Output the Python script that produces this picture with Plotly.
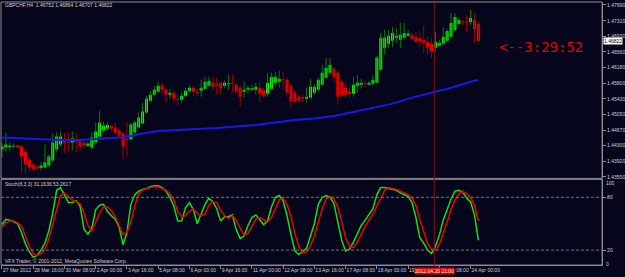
import plotly.graph_objects as go

# ---------------- data ----------------
opens = [1.44210,1.44258,1.44270,1.44282,1.44306,1.44282,1.44162,1.43970,1.43850,1.43802,
         1.43766,1.43778,1.43826,1.43946,1.44210,1.44330,1.44402,1.44390,1.44378,1.44426,
         1.44402,1.44378,1.44294,1.44258,1.44378,1.44522,1.44666,1.44714,1.44774,1.44738,
         1.44666,1.44594,1.44462,1.44450,1.44618,1.44738,1.44834,1.45098,1.45386,1.45530,
         1.45602,1.45746,1.45650,1.45530,1.45578,1.45434,1.45410,1.45506,1.45626,1.45698,
         1.45602,1.45626,1.45674,1.45746,1.45818,1.45794,1.45818,1.45746,1.45782,1.45806,
         1.45770,1.45698,1.45602,1.45650,1.45650,1.45650,1.45698,1.45650,1.45554,1.45674,
         1.45818,1.45842,1.45902,1.45890,1.45746,1.45578,1.45482,1.45470,1.45434,1.45458,
         1.45578,1.45650,1.45770,1.45938,1.46058,1.46154,1.46058,1.45842,1.45698,1.45602,
         1.45554,1.45746,1.45770,1.45806,1.45770,1.45794,1.45818,1.46130,1.46658,1.46754,
         1.46826,1.46898,1.46850,1.46898,1.46946,1.46970,1.46922,1.46898,1.46850,1.46802,
         1.46754,1.46658,1.46706,1.46754,1.46826,1.46922,1.47090,1.47234,1.47294,1.47282,
         1.47282,1.47330,1.47234]
highs = [1.44378,1.44618,1.44378,1.44354,1.44330,1.44306,1.44210,1.44018,1.43898,1.43826,
         1.43898,1.44330,1.44090,1.44594,1.44618,1.44642,1.44618,1.44618,1.44642,1.44618,
         1.44450,1.44426,1.44402,1.44618,1.44858,1.45146,1.44882,1.44858,1.44810,1.44858,
         1.44714,1.44642,1.44882,1.44858,1.44906,1.45098,1.45338,1.45506,1.45626,1.45746,
         1.45842,1.45818,1.45698,1.45674,1.45650,1.45530,1.45578,1.45698,1.45770,1.45746,
         1.45674,1.45890,1.45962,1.45962,1.45962,1.45962,1.45842,1.45866,1.46010,1.46010,
         1.45818,1.45746,1.45842,1.45746,1.45770,1.45818,1.45842,1.45698,1.46058,1.46058,
         1.46082,1.46106,1.46082,1.45938,1.45794,1.45650,1.45530,1.45530,1.45698,1.45914,
         1.45770,1.45938,1.46250,1.46418,1.46418,1.46202,1.46106,1.45890,1.45818,1.45698,
         1.45962,1.46010,1.45914,1.45890,1.45866,1.46010,1.46466,1.47018,1.47090,1.47090,
         1.47162,1.47138,1.47258,1.47258,1.47090,1.47018,1.47042,1.47042,1.47186,1.46922,
         1.46898,1.47042,1.46850,1.47162,1.47114,1.47498,1.47498,1.47378,1.47330,1.47450,
         1.47570,1.47498,1.47282]
lows = [1.44018,1.44162,1.44162,1.44234,1.44234,1.43658,1.43610,1.43658,1.43682,1.43706,
        1.43706,1.43754,1.43778,1.43898,1.44138,1.44282,1.44138,1.44162,1.44186,1.44138,
        1.44162,1.44234,1.44258,1.44210,1.44330,1.44474,1.44618,1.44666,1.44666,1.44570,
        1.44498,1.43970,1.44042,1.44426,1.44594,1.44714,1.44810,1.45074,1.45338,1.45482,
        1.45554,1.45530,1.45338,1.45434,1.45338,1.45266,1.45338,1.45458,1.45578,1.45506,
        1.45482,1.45482,1.45650,1.45722,1.45650,1.45530,1.45530,1.45698,1.45650,1.45578,
        1.45554,1.45242,1.45458,1.45554,1.45602,1.45530,1.45338,1.45458,1.45482,1.45650,
        1.45722,1.45698,1.45650,1.45482,1.45242,1.45338,1.45338,1.45362,1.45338,1.45434,
        1.45530,1.45602,1.45746,1.45914,1.46010,1.45842,1.45290,1.45458,1.45458,1.45458,
        1.45482,1.45578,1.45674,1.45698,1.45746,1.45770,1.45794,1.46082,1.46490,1.46658,
        1.46682,1.46778,1.46658,1.46850,1.46922,1.46850,1.46778,1.46682,1.46538,1.46490,
        1.46418,1.46562,1.46682,1.46730,1.46802,1.46898,1.47042,1.47210,1.47210,1.47042,
        1.47210,1.46778,1.46802]
closes = [1.44282,1.44330,1.44306,1.44294,1.44270,1.44042,1.43850,1.43778,1.43730,1.43754,
          1.43826,1.43898,1.44042,1.44378,1.44522,1.44522,1.44354,1.44366,1.44474,1.44390,
          1.44282,1.44306,1.44354,1.44498,1.44642,1.44858,1.44786,1.44798,1.44714,1.44618,
          1.44546,1.44282,1.44438,1.44810,1.44858,1.44978,1.45122,1.45434,1.45530,1.45650,
          1.45746,1.45650,1.45530,1.45578,1.45434,1.45410,1.45506,1.45626,1.45698,1.45602,
          1.45578,1.45698,1.45842,1.45866,1.45722,1.45746,1.45698,1.45818,1.45794,1.45782,
          1.45602,1.45482,1.45650,1.45698,1.45686,1.45722,1.45554,1.45506,1.45818,1.45962,
          1.45962,1.45914,1.45878,1.45578,1.45362,1.45362,1.45386,1.45434,1.45482,1.45722,
          1.45722,1.45890,1.46058,1.46178,1.46250,1.45962,1.45482,1.45506,1.45530,1.45554,
          1.45770,1.45818,1.45818,1.45782,1.45818,1.45890,1.46418,1.46898,1.46898,1.46946,
          1.47018,1.46946,1.46970,1.47018,1.47006,1.46874,1.46802,1.46802,1.46778,1.46658,
          1.46562,1.46802,1.46778,1.46922,1.47066,1.47258,1.47402,1.47330,1.47270,1.47258,
          1.47378,1.47114,1.46822]

ma_idx = [0,5,10,15,20,25,30,33,36,40,45,50,55,60,65,70,75,80,85,90,95,100,105,110,115,120,122]
ma_val = [1.44498,1.44474,1.44450,1.44438,1.44438,1.44462,1.44498,1.44534,1.44594,1.44654,
          1.44678,1.44690,1.44726,1.44762,1.44798,1.44858,1.44918,1.44954,1.45014,1.45110,
          1.45218,1.45314,1.45458,1.45578,1.45698,1.45842,1.45890]

stoch_k = [49,55,54,52,50,40,27,18,12,14, 20,28,42,62,88,91,82,74,74,76,
           70,44,38,45,66,71,72,64,59,55, 46,26,40,72,83,87,89,90,92,93,
           93,91,87,80,70,53,53,68,74,66, 50,
           62,72,79,75,67,53,58,58,60,43, 33,36,48,57,60,54,49,53,69,80,
           82,76,59,38,19,15,18,22,36,50, 72,80,82,80,73,53,31,19,21,29,
           38,48,54,61,67,83,91,91,90,89, 88,85,83,81,74,57,34,28,20,16,
           24,37,54,66,78,87,88,86,79,75, 60,31]
stoch_d = [46,51,53,53,51,47,36,24,16,14, 16,21,33,48,66,82,85,81,77,75,
           73,62,48,42,52,62,69,69,65,58, 48,38,40,52,70,84,88,90,91,92,
           92,90,88,84,77,64,58,59,64,67, 62,
           59,61,71,75,74,65,59,56,59,54, 45,37,39,47,55,57,54,52,57,67,
           77,79,72,58,39,24,17,18,25,36, 53,67,78,81,78,69,52,34,24,23,
           29,38,47,54,61,70,80,88,91,90, 89,87,85,83,79,71,55,40,27,21,
           20,26,38,52,66,77,84,87,84,80, 71,53]

price_ticks = [1.4769,1.4731,1.4693,1.4656,1.4618,1.4580,1.4543,1.4505,1.4467,1.4430,1.4392,1.4355]
price_tick_text = ["1.47690","1.47310","1.46930","1.46560","1.46180","1.45800",
                   "1.45430","1.45050","1.44670","1.44300","1.43920","1.43550"]
stoch_levels = [80, 20]
stoch_level_text = ["80", "20"]
time_tick_idx = [0,8,16,24,32,40,48,56,64,72,80,88,96,104,112,120]
time_tick_text = ["27 Mar 2012","28 Mar 16:00","30 Mar 08:00","2 Apr 00:00","3 Apr 16:00",
                  "5 Apr 08:00","6 Apr 00:00","9 Apr 16:00","11 Apr 00:00","12 Apr 08:00",
                  "13 Apr 16:00","17 Apr 08:00","18 Apr 00:00","19 Apr 16:00","20 Apr 08:00",
                  "24 Apr 00:00"]

title_text = "GBPCHF,H4  1.46752 1.46864 1.46707 1.46822"
stoch_text = "Stoch(8,3,3) 31.1636 53.2617"
copyright_text = "VFX Trader, \u00a9 2001-2012, MetaQuotes Software Corp."
timer_text = "<--3:29:52"
marker_time_idx = 110.7
marker_time_text = "2012.04.20 21:00"
last_price = 1.46822

# ---------------- styling ----------------
W, H = 625, 277
def px(x): return x / W
def py(y): return 1 - y / H

BG = "#05051b"
FRAME = "#8e8e8e"
TXT = "#d2d2d2"
BULL = "#00ff00"
BULL_WICK = "#0a7a0a"
BEAR = "#ff0000"
BEAR_WICK = "#a00000"
FONT = "Liberation Sans"

n = len(closes)
idx = list(range(n))
up = [i for i in idx if closes[i] >= opens[i]]
dn = [i for i in idx if closes[i] < opens[i]]

def wicks(sel):
    xs, ys = [], []
    for i in sel:
        xs += [i, i, None]
        ys += [lows[i], highs[i], None]
    return xs, ys

def bodies(sel):
    base = [min(opens[i], closes[i]) for i in sel]
    hgt = [max(abs(closes[i] - opens[i]), 0.0002) for i in sel]
    return base, hgt

fig = go.Figure()
for sel, wc in [(up, BULL_WICK), (dn, BEAR_WICK)]:
    wx, wy = wicks(sel)
    fig.add_trace(go.Scatter(x=wx, y=wy, mode="lines", line=dict(color=wc, width=1),
                             xaxis="x", yaxis="y", hoverinfo="skip", showlegend=False))
for sel, bc in [(up, BULL), (dn, BEAR)]:
    b, h = bodies(sel)
    fig.add_trace(go.Bar(x=sel, y=h, base=b, width=0.76,
                         marker=dict(color=bc, line=dict(width=0)),
                         xaxis="x", yaxis="y", hoverinfo="skip", showlegend=False))

fig.add_trace(go.Scatter(x=ma_idx, y=ma_val, mode="lines", line=dict(color="#1818e8", width=2),
                         xaxis="x", yaxis="y", hoverinfo="skip", showlegend=False))

fig.add_trace(go.Scatter(x=idx, y=stoch_k, mode="lines", line=dict(color="#10e010", width=1.5),
                         xaxis="x2", yaxis="y2", hoverinfo="skip", showlegend=False))
fig.add_trace(go.Scatter(x=idx, y=stoch_d, mode="lines", line=dict(color="#f00000", width=1.5),
                         xaxis="x2", yaxis="y2", hoverinfo="skip", showlegend=False))

xr = [-0.254, 153.69]
xdom = [px(1), px(606)]
tickfont = dict(family=FONT, size=5, color=TXT)

fig.update_layout(
    width=W, height=H, margin=dict(l=0, r=0, t=0, b=0),
    paper_bgcolor=BG, plot_bgcolor=BG, barmode="overlay", showlegend=False,
    xaxis=dict(domain=xdom, range=xr, anchor="y", showticklabels=False, showgrid=False,
               zeroline=False, showline=False, ticks=""),
    xaxis2=dict(domain=xdom, range=xr, anchor="y2", showgrid=False, zeroline=False,
                tickmode="array", tickvals=time_tick_idx, ticktext=time_tick_text,
                tickangle=0, ticks="outside", ticklen=3, tickcolor=FRAME, tickwidth=1,
                ticklabelposition="outside right", tickfont=tickfont,
                showline=True, linecolor=FRAME, linewidth=1),
    yaxis=dict(domain=[py(179), py(2)], range=[1.43514, 1.47762], side="right", anchor="x",
               tickmode="array", tickvals=price_ticks, ticktext=price_tick_text,
               ticks="outside", ticklen=3, tickcolor=FRAME, tickfont=tickfont,
               showgrid=False, zeroline=False, showline=True, linecolor=FRAME),
    yaxis2=dict(domain=[py(266), py(180)], range=[3.0, 100.4], side="right", anchor="x2",
                tickmode="array", tickvals=stoch_levels, ticktext=stoch_level_text,
                ticks="outside", ticklen=3, tickcolor=FRAME, tickfont=tickfont,
                showgrid=False, zeroline=False, showline=True, linecolor=FRAME),
)

shapes = [
    dict(type="rect", xref="paper", yref="paper", x0=px(1), x1=px(606), y0=py(179), y1=py(2),
         line=dict(color=FRAME, width=1)),
    dict(type="rect", xref="paper", yref="paper", x0=px(1), x1=px(606), y0=py(266), y1=py(180),
         line=dict(color=FRAME, width=1)),
]
for lv in stoch_levels:
    shapes.append(dict(type="line", xref="paper", yref="y2", x0=px(1), x1=px(606), y0=lv, y1=lv,
                       line=dict(color="#7a7a7a", width=1, dash="3px,2px")))
shapes.append(dict(type="line", xref="x", yref="paper", x0=marker_time_idx, x1=marker_time_idx,
                   y0=py(268), y1=py(2), line=dict(color="#8a1010", width=1)))
fig.update_layout(shapes=shapes)

ann = [
    dict(text=title_text, x=px(3), y=py(5.5), xanchor="left", yanchor="middle",
         font=dict(family=FONT, size=5, color=TXT)),
    dict(text=stoch_text, x=px(3), y=py(185), xanchor="left", yanchor="middle",
         font=dict(family=FONT, size=5, color=TXT)),
    dict(text=copyright_text, x=px(3), y=py(262), xanchor="left", yanchor="middle",
         font=dict(family=FONT, size=5, color=TXT)),
    dict(text=timer_text, x=px(500), y=py(47), xanchor="left", yanchor="middle",
         font=dict(family="DejaVu Sans Mono", size=14, color="#e60000")),
    dict(text="100", x=px(608), y=py(184), xanchor="left", yanchor="middle",
         font=dict(family=FONT, size=5, color=TXT)),
    dict(text="0", x=px(608), y=py(265), xanchor="left", yanchor="middle",
         font=dict(family=FONT, size=5, color=TXT)),
]
for a in ann:
    a.update(xref="paper", yref="paper", showarrow=False)
fig.update_layout(annotations=ann)
fig.add_annotation(text="%.5f" % last_price, x=px(607), xref="paper",
                   y=last_price, yref="y", xanchor="left", yanchor="middle", showarrow=False,
                   bgcolor="#ffffff", borderpad=0, font=dict(family=FONT, size=5, color="#000000"))
fig.add_annotation(text=marker_time_text, x=marker_time_idx, xref="x2", y=py(271.5), yref="paper",
                   xanchor="center", yanchor="middle", showarrow=False, bgcolor="#e00000",
                   borderpad=0, font=dict(family=FONT, size=5, color="#ffffff"))

fig.write_html("out.html", config={"displayModeBar": False, "staticPlot": True})
